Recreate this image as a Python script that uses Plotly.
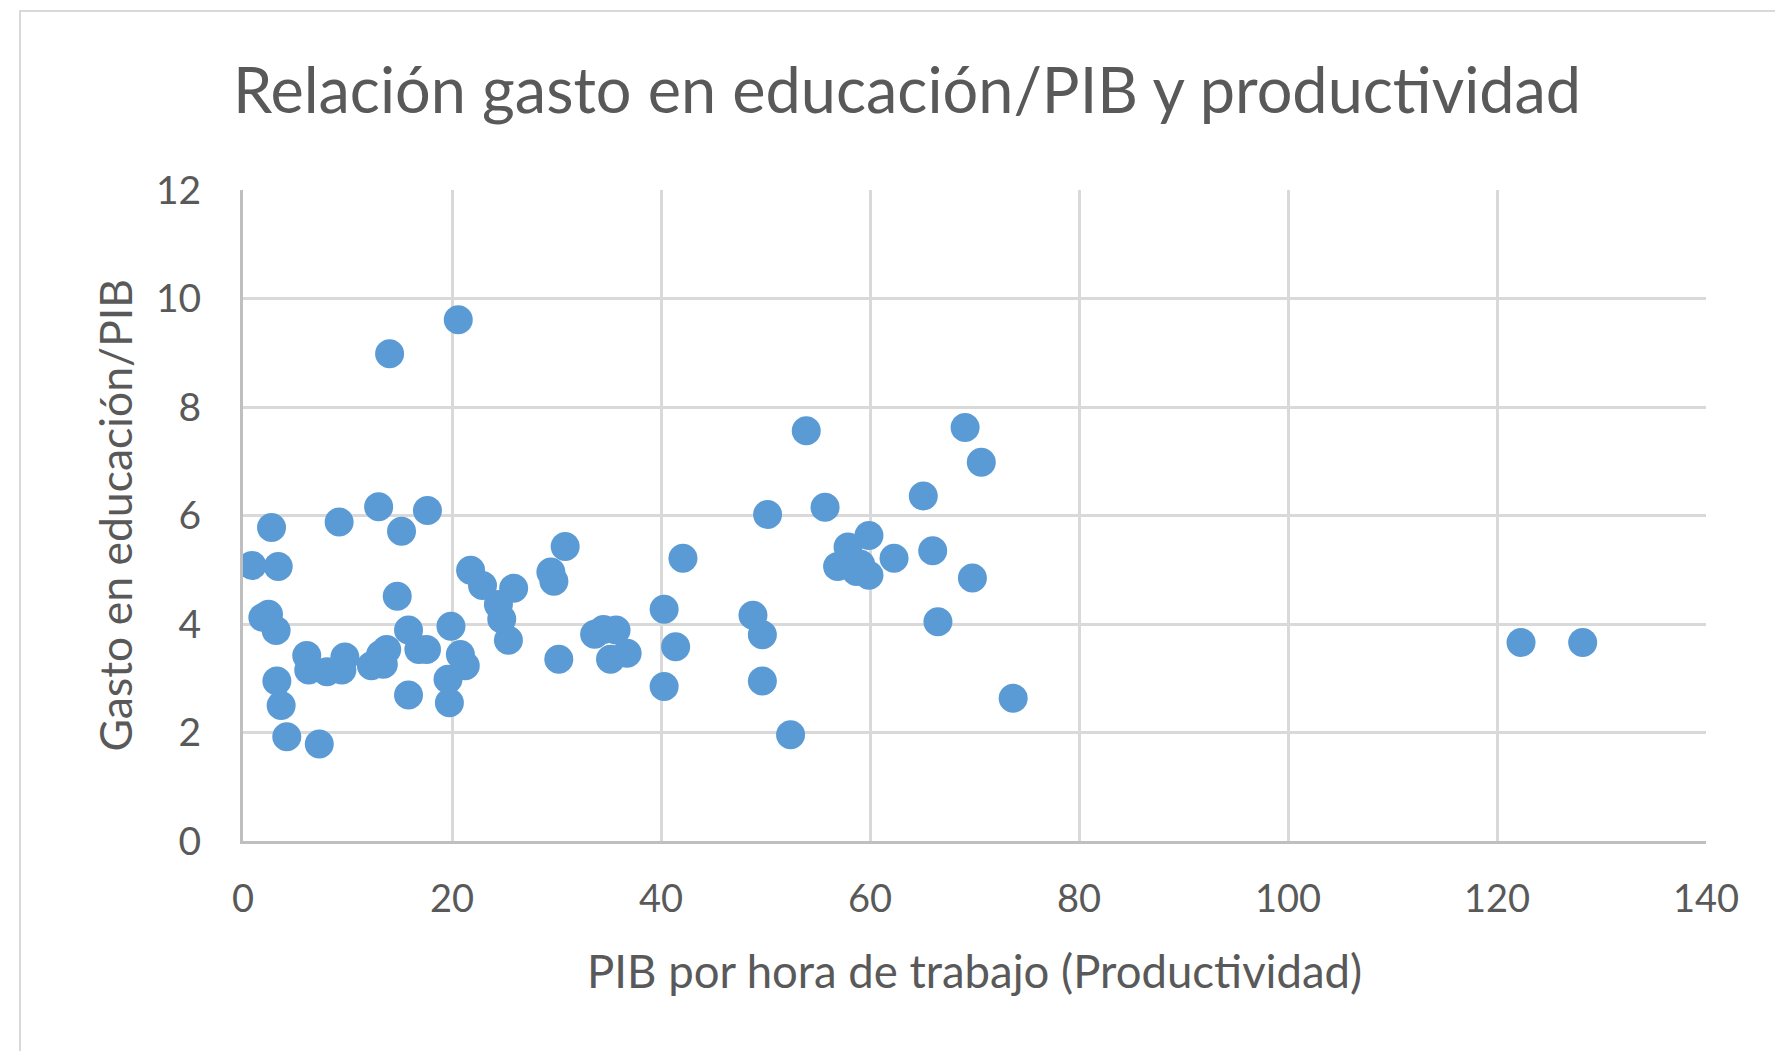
import plotly.graph_objects as go

productividad = [0.86, 1.9, 2.44, 2.73, 3.17, 3.24, 3.37, 3.65, 4.19, 6.1, 6.29, 7.3, 8.03, 9.2,
                 9.46, 9.75, 12.29, 12.98, 13.17, 13.43, 13.75, 14.03, 14.76, 15.17, 15.84, 15.84,
                 16.83, 17.56, 17.65, 19.62, 19.75, 19.9, 20.6, 20.8, 21.27, 21.78, 22.92, 24.44,
                 24.76, 25.4, 25.9, 29.46, 29.75, 30.22, 30.83, 33.65, 34.5, 35.17, 35.7, 36.76,
                 40.3, 40.3, 41.4, 42.1, 48.8, 49.7, 49.7, 50.2, 52.4, 53.9, 55.7, 56.9, 57.9,
                 58.0, 58.7, 59.1, 59.9, 59.9, 62.3, 65.1, 66.0, 66.5, 69.1, 69.8, 70.65, 73.7,
                 122.3, 128.2]
gasto = [5.08, 4.12, 4.18, 5.78, 3.88, 2.95, 5.06, 2.50, 1.92, 3.42, 3.15, 1.79, 3.12, 5.88,
         3.15, 3.39, 3.23, 6.16, 3.44, 3.26, 3.53, 8.98, 4.51, 5.71, 3.89, 2.69,
         3.53, 3.53, 6.09, 2.98, 2.55, 3.96, 9.61, 3.44, 3.23, 4.99, 4.71, 4.36,
         4.09, 3.70, 4.66, 4.96, 4.79, 3.35, 5.43, 3.81, 3.90, 3.35, 3.89, 3.46,
         4.27, 2.85, 3.58, 5.21, 4.16, 3.80, 2.95, 6.02, 1.96, 7.56, 6.15, 5.06, 5.42,
         5.12, 4.97, 5.10, 4.90, 5.63, 5.21, 6.36, 5.35, 4.04, 7.62, 4.85, 6.98, 2.63,
         3.66, 3.66]

x_ticks = [0, 20, 40, 60, 80, 100, 120, 140]
y_ticks = [0, 2, 4, 6, 8, 10, 12]

titulo = "Relación gasto en educación/PIB y productividad"
titulo_x = "PIB por hora de trabajo (Productividad)"
titulo_y = "Gasto en educación/PIB"

FONT = "Lato"
GREY = "#595959"

fig = go.Figure()
fig.add_trace(go.Scatter(
    x=productividad, y=gasto, mode="markers",
    marker=dict(size=29, color="#5b9bd5", line=dict(width=0)),
    showlegend=False, hoverinfo="x+y",
))

W, H = 1775, 1051
L, R, T, B = 243, 1775 - 1706, 190, 1051 - 841
pw, ph = W - L - R, H - T - B

fig.update_layout(
    width=W, height=H,
    margin=dict(l=L, r=R, t=T, b=B, pad=0),
    paper_bgcolor="white", plot_bgcolor="white",
    font=dict(family=FONT, color=GREY),
    xaxis=dict(range=[0, 140], tickvals=x_ticks, ticktext=[str(v) for v in x_ticks],
               showgrid=True, gridcolor="#d9d9d9", gridwidth=2.5,
               showline=True, linecolor="#bfbfbf", linewidth=3,
               zeroline=False, ticks="", ticklabelstandoff=22,
               tickfont=dict(family=FONT, size=38, color=GREY), fixedrange=True),
    yaxis=dict(range=[0, 12], tickvals=y_ticks, ticktext=[str(v) for v in y_ticks],
               showgrid=True, gridcolor="#d9d9d9", gridwidth=2.5,
               showline=True, linecolor="#bfbfbf", linewidth=3,
               zeroline=False, ticks="", ticklabelstandoff=31,
               tickfont=dict(family=FONT, size=39, color=GREY), fixedrange=True),
    annotations=[
        dict(text=titulo, xref="paper", yref="paper", x=(907 - L) / pw, y=1 + (T - 88) / ph,
             xanchor="center", yanchor="middle", showarrow=False,
             font=dict(family=FONT, size=63, color=GREY)),
        dict(text=titulo_x, xref="paper", yref="paper", x=0.5, y=(841 - 970) / ph,
             xanchor="center", yanchor="middle", showarrow=False,
             font=dict(family=FONT, size=45.5, color=GREY)),
        dict(text=titulo_y, xref="paper", yref="paper", x=(114 - L) / pw, y=0.5,
             xanchor="center", yanchor="middle", showarrow=False, textangle=-90,
             font=dict(family=FONT, size=44.5, color=GREY)),
    ],
    shapes=[
        dict(type="rect", xref="paper", yref="paper",
             x0=(20 - L) / pw, x1=1.2, y0=-0.5, y1=1 + (T - 11) / ph,
             line=dict(color="#d9d9d9", width=2), fillcolor="rgba(0,0,0,0)", layer="below"),
    ],
)

fig.write_html("out.html", config={"displayModeBar": False},
               post_script="document.body.style.margin='0';document.body.style.overflow='hidden';")
